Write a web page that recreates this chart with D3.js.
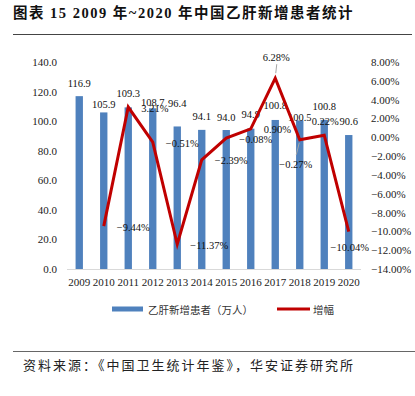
<!DOCTYPE html>
<html>
<head>
<meta charset="utf-8">
<script src="https://cdn.jsdelivr.net/npm/d3@7"></script>
<style>
  body { margin: 0; background: #fff; }
  svg { display: block; }
</style>
</head>
<body>
<svg id="chart" width="415" height="396"></svg>
<script>
// data
var years = ['2009', '2010', '2011', '2012', '2013', '2014', '2015', '2016', '2017', '2018', '2019', '2020'];
var patients = [116.9, 105.9, 109.3, 108.7, 96.4, 94.1, 94.0, 94.9, 100.8, 100.5, 100.8, 90.6];
var growth = [null, -9.44, 3.21, -0.51, -11.37, -2.39, -0.08, 0.90, 6.28, -0.27, 0.22, -10.04];
var leftTicks = [0, 20, 40, 60, 80, 100, 120, 140];
var rightTicks = [-14, -12, -10, -8, -6, -4, -2, 0, 2, 4, 6, 8];

// label nudges copied from the original layout
var barLabelShift = [-13, -8, -14, -6, -23, -13, -13, -14, -14, -3, -13, -14];
var growthLabelPos = [null, 'right', 'right', 'right', 'right', 'right', 'right', 'right', 'above', 'below', 'above', 'below'];

var svg = d3.select('#chart');
var serif = '"Liberation Serif", "Times New Roman", serif';
var cjk = '"Noto Sans CJK SC", sans-serif';

// title
svg.append('text')
    .attr('x', 13).attr('y', 18)
    .style('font-family', serif + ',' + cjk)
    .style('font-weight', 'bold')
    .style('font-size', '14.5px')
    .style('letter-spacing', '1.5px')
    .attr('fill', '#111')
    .text('图表 15 2009 年~2020 年中国乙肝新增患者统计');
svg.append('line').attr('x1', 13).attr('x2', 412).attr('y1', 34.5).attr('y2', 34.5)
    .attr('stroke', '#444').attr('stroke-width', 1);

var xScale = d3.scaleBand().domain(years).range([67, 361]).paddingInner(0.7).paddingOuter(0.35);
var yLeft = d3.scaleLinear().domain([0, 140]).range([269, 62]);
var yRight = d3.scaleLinear().domain([-14, 8]).range([269, 62]);
var cx = function(y) { return xScale(y) + xScale.bandwidth() / 2; };

// axes
var leftAxis = d3.axisLeft(yLeft).tickValues(leftTicks).tickFormat(d3.format('.1f')).tickSize(0).tickPadding(0);
svg.append('g').attr('class', 'yaxis').attr('transform', 'translate(57, 0)').call(leftAxis);
var rightAxis = d3.axisRight(yRight).tickValues(rightTicks).tickFormat(function(d) { return d3.format('.2f')(d) + '%'; }).tickSize(0).tickPadding(0);
svg.append('g').attr('class', 'y2axis').attr('transform', 'translate(371, 0)').call(rightAxis);
var xAxis = d3.axisBottom(xScale).tickSize(0).tickPadding(9);
svg.append('g').attr('class', 'xaxis').attr('transform', 'translate(0, 269)').call(xAxis);

svg.selectAll('.yaxis .domain, .y2axis .domain').remove();
svg.select('.xaxis .domain').attr('stroke', '#d9d9d9').attr('d', 'M67,0.5H361');
svg.selectAll('.yaxis text, .y2axis text, .xaxis text')
    .style('font-family', serif).style('font-size', '11px').attr('fill', '#222');

// bars
svg.append('g').selectAll('rect').data(patients).enter().append('rect')
    .attr('x', function(d, i) { return xScale(years[i]); })
    .attr('width', xScale.bandwidth())
    .attr('y', function(d) { return yLeft(d); })
    .attr('height', function(d) { return 269 - yLeft(d); })
    .attr('fill', '#4f81bd');

// bar labels
svg.append('g').selectAll('text').data(patients).enter().append('text')
    .attr('x', function(d, i) { return cx(years[i]); })
    .attr('y', function(d, i) { return yLeft(d) + barLabelShift[i]; })
    .attr('text-anchor', 'middle')
    .attr('dominant-baseline', 'central')
    .style('font-family', serif).style('font-size', '10.5px').attr('fill', '#111')
    .text(function(d) { return d3.format('.1f')(d); });

// growth line
var pts = years.map(function(y, i) { return { year: y, v: growth[i], pos: growthLabelPos[i] }; })
    .filter(function(d) { return d.v !== null; });
var line = d3.line().x(function(d) { return cx(d.year); }).y(function(d) { return yRight(d.v); });
svg.append('path').datum(pts).attr('d', line)
    .attr('fill', 'none').attr('stroke', '#c00000').attr('stroke-width', 3)
    .attr('stroke-linejoin', 'miter');

// leader lines for the labels pulled away from the point
svg.append('g').selectAll('line').data(pts.filter(function(d) { return d.year === '2017' || d.year === '2018'; }))
    .enter().append('line')
    .attr('x1', function(d) { return cx(d.year) + (d.pos === 'above' ? 0.5 : -0.5); })
    .attr('y1', function(d) { return yRight(d.v) + (d.pos === 'above' ? -5 : 3); })
    .attr('x2', function(d) { return cx(d.year) + (d.pos === 'above' ? 1.5 : -3.5); })
    .attr('y2', function(d) { return yRight(d.v) + (d.pos === 'above' ? -14 : 15); })
    .attr('stroke', '#a6a6a6').attr('stroke-width', 1);

svg.append('g').selectAll('text').data(pts).enter().append('text')
    .attr('x', function(d) {
        if (d.pos === 'right') return cx(d.year) + 13;
        if (d.year === '2018') return cx(d.year) - 4;
        return cx(d.year) + 1;
    })
    .attr('y', function(d) {
        var y = yRight(d.v);
        if (d.pos === 'right') return y + 1;
        if (d.year === '2017') return y - 21;
        if (d.year === '2018') return y + 25;
        if (d.pos === 'above') return y - 14;
        return y + 16;
    })
    .attr('text-anchor', function(d) { return d.pos === 'right' ? 'start' : 'middle'; })
    .attr('dominant-baseline', 'central')
    .style('font-family', serif).style('font-size', '10.5px').attr('fill', '#111')
    .text(function(d) { return d3.format('.2f')(d.v) + '%'; });

// legend
var legend = svg.append('g').attr('transform', 'translate(0, 309)');
legend.append('rect').attr('x', 112).attr('y', -2.5).attr('width', 31).attr('height', 5).attr('fill', '#4f81bd');
legend.append('text').attr('x', 148).attr('y', 0).attr('dominant-baseline', 'central')
    .style('font-family', cjk).style('font-size', '10.5px').attr('fill', '#333')
    .text('乙肝新增患者（万人）');
legend.append('line').attr('x1', 277).attr('x2', 310).attr('y1', 0).attr('y2', 0)
    .attr('stroke', '#c00000').attr('stroke-width', 3);
legend.append('text').attr('x', 313).attr('y', 0).attr('dominant-baseline', 'central')
    .style('font-family', cjk).style('font-size', '10.5px').attr('fill', '#333')
    .text('增幅');

// source
svg.append('line').attr('x1', 13).attr('x2', 415).attr('y1', 351.5).attr('y2', 351.5)
    .attr('stroke', '#666').attr('stroke-width', 1);
svg.append('text').attr('x', 23).attr('y', 364).attr('dominant-baseline', 'central')
    .style('font-family', cjk).style('font-size', '13px').style('letter-spacing', '2px')
    .attr('fill', '#222')
    .text('资料来源：《中国卫生统计年鉴》，华安证券研究所');
</script>
</body>
</html>
